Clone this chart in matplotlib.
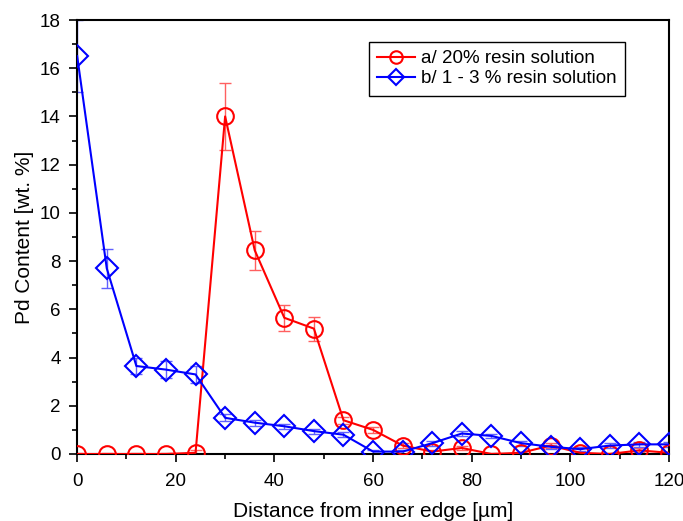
import numpy as np
import matplotlib.pyplot as plt
from matplotlib.ticker import MultipleLocator

plt.rcParams['font.family'] = ['Liberation Sans', 'DejaVu Sans']

x = [0, 6, 12, 18, 24, 30, 36, 42, 48, 54, 60, 66, 72, 78, 84, 90, 96, 102, 108, 114, 120]

red_y = [0, 0, 0, 0, 0.05, 14.0, 8.45, 5.65, 5.2, 1.4, 1.0, 0.35, 0.1, 0.25, 0.0,
         0.05, 0.35, 0.05, 0.0, 0.15, 0.05]
red_err = [0.05, 0.05, 0.05, 0.05, 0.1, 1.4, 0.8, 0.55, 0.5, 0.15, 0.12, 0.1, 0.08, 0.1, 0.05,
           0.05, 0.1, 0.05, 0.05, 0.08, 0.05]

blue_y = [16.5, 7.7, 3.65, 3.5, 3.3, 1.5, 1.3, 1.15, 0.95, 0.8, 0.1, 0.1, 0.45, 0.85, 0.75,
          0.45, 0.3, 0.2, 0.35, 0.4, 0.4]
blue_err = [1.5, 0.8, 0.35, 0.35, 0.35, 0.15, 0.12, 0.1, 0.1, 0.1, 0.08, 0.08, 0.1, 0.12, 0.1,
            0.1, 0.08, 0.08, 0.1, 0.1, 0.1]

fig = plt.figure(figsize=(6.83, 5.21), dpi=100)
ax = fig.add_axes([0.113, 0.1286, 0.8665, 0.833])

# error bars first, then lines/markers on top
ax.errorbar(x, red_y, yerr=red_err, fmt='none', ecolor='#ff6060', elinewidth=1,
            capsize=4, capthick=1, zorder=2)
ax.errorbar(x, blue_y, yerr=blue_err, fmt='none', ecolor='#6060ff', elinewidth=1,
            capsize=4, capthick=1, zorder=2)

ax.plot(x, red_y, color='red', lw=1.5, marker='o', ms=12, mfc='none', mew=1.5,
        label='a/ 20% resin solution', zorder=3)
ax.plot(x, blue_y, color='blue', lw=1.5, marker='D', ms=11, mfc='none', mew=1.5,
        label='b/ 1 - 3 % resin solution', zorder=4)

ax.set_xlim(0, 120)
ax.set_ylim(0, 18)
ax.xaxis.set_major_locator(MultipleLocator(20))
ax.xaxis.set_minor_locator(MultipleLocator(10))
ax.yaxis.set_major_locator(MultipleLocator(2))
ax.yaxis.set_minor_locator(MultipleLocator(1))
ax.tick_params(which='both', direction='out', labelsize=13.5)
ax.tick_params(axis='x', which='major', pad=8)
ax.tick_params(axis='y', which='major', pad=6)
ax.tick_params(which='major', length=6, width=1.2)
ax.tick_params(which='minor', length=3.5, width=1.2)
for s in ax.spines.values():
    s.set_linewidth(1.5)

ax.set_xlabel('Distance from inner edge [\u00b5m]', fontsize=15, labelpad=8)
ax.set_ylabel('Pd Content [wt. %]', fontsize=15, labelpad=4)

leg = ax.legend(loc='upper right', bbox_to_anchor=(0.925, 0.95), borderaxespad=0,
                fontsize=13.5, fancybox=False, edgecolor='black', framealpha=1,
                handlelength=2.0, markerscale=0.75, borderpad=0.45, labelspacing=0.15,
                handletextpad=0.3)
leg.get_frame().set_linewidth(1)

fig.savefig('out.png', dpi=100)
